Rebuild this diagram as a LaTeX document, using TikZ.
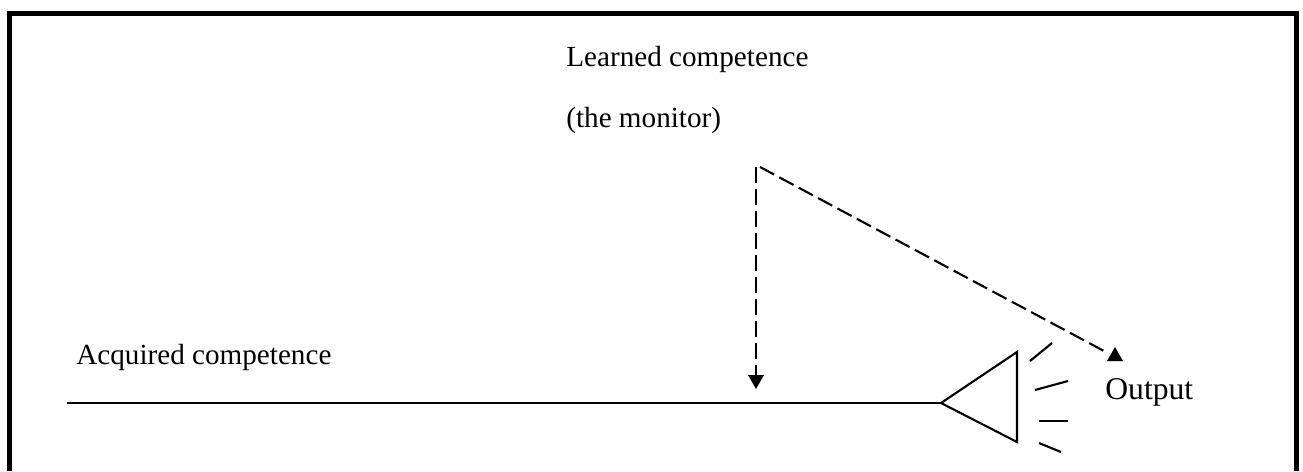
\documentclass[tikz,border=0pt]{standalone}
\usepackage{fontspec}
\setmainfont{Liberation Serif}
\usepackage{xcolor}
\usetikzlibrary{arrows.meta,calc,positioning}
\tikzset{
  label/.style={inner sep=0pt,anchor=base west,font=\fontsize{16.6}{20}\selectfont},
  flow/.style={line width=1.2pt,black},
  monitor/.style={line width=1.2pt,dash pattern=on 9.1pt off 3.4pt},
  tiphead/.style={fill=black,draw=none},
}
\begin{document}
\begin{tikzpicture}[x=0.02cm,y=-0.02cm]
  \useasboundingbox (0,0) rectangle (1303,471);
  % frame, open at the bottom edge
  \draw[line width=3pt,line cap=butt] (9.5,471) -- (9.5,13.5) -- (1296.5,13.5) -- (1296.5,471);
  % texts
  \node[label] (learned) at (566,66) {Learned competence};
  \node[label] (monitor) at (566,127) {(the monitor)};
  \node[label] (acquired) at (76,364) {Acquired competence};
  \node[label,font=\fontsize{18}{20}\selectfont] (output) at (1105,399) {Output};
  % line and speaker
  \coordinate (start) at (67,403);
  \coordinate (tip) at (941,403);
  \coordinate (top) at (1017,352);
  \coordinate (bottom) at (1017,442);
  \draw[flow] (start) -- (tip);
  \draw[flow,line join=miter] (tip) -- (top) -- (bottom) -- cycle;
  \draw[flow] (1030,361) -- (1052,343);
  \draw[flow] (1035,390) -- (1068,381);
  \draw[flow] (1039,421) -- (1068,421);
  \draw[flow] (1039,443) -- (1061,452);
  % dashed lines, their heads drawn apart
  \coordinate (corner) at (756,167);
  \coordinate (cornerb) at (760,167);
  \coordinate (drop) at (756,376);
  \coordinate (out) at (1104,351);
  \draw[monitor] (corner) -- (drop);
  \draw[monitor] (cornerb) -- (out);
  \fill[tiphead] (748,375) -- (764,375) -- (756,389) -- cycle;
  \fill[tiphead] (1107,361) -- (1123,361) -- (1115,347) -- cycle;
\end{tikzpicture}
\end{document}
